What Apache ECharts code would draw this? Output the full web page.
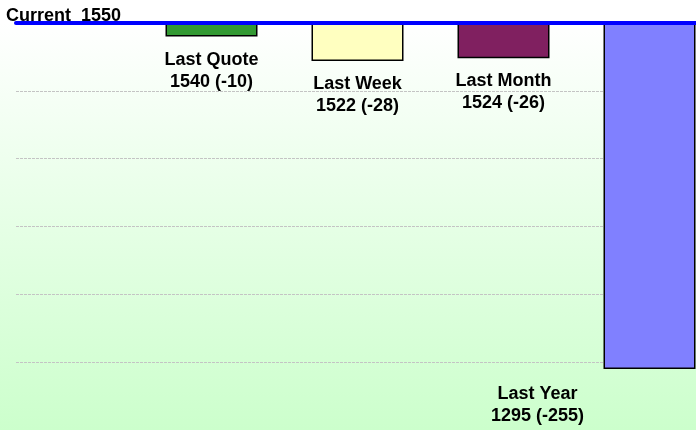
<!DOCTYPE html>
<html>
<head>
<meta charset="utf-8">
<script src="https://cdn.jsdelivr.net/npm/echarts@6/dist/echarts.min.js"></script>
<style>
html,body{margin:0;padding:0;}
body{background:linear-gradient(to bottom,#ffffff 0px,#ffffff 23px,#ccffcc 430px);}
#c{width:696px;height:430px;}
</style>
</head>
<body>
<div id="c"></div>
<script>
// ---- data ----
const categories = ['Last Quote', 'Last Week', 'Last Month', 'Last Year'];
const values = [1540, 1522, 1524, 1295];
const current = 1550;
const currentLabel = 'Current';
const yMin = 1250, yMax = 1550, yStep = 50;

// ---- styles ----
const barColors = ['#339933', '#FFFFC0', '#802060', '#8080FF'];
const labelOffsets = [[0, 0], [0, 0], [0, 0], [-112, 2]];
const FONT = '"Liberation Sans", Arial, sans-serif';

const chart = echarts.init(document.getElementById('c'), null, {renderer: 'canvas'});

const deltas = values.map(v => current - v);

chart.setOption({
  backgroundColor: 'transparent',
  animation: false,
  title: {
    text: currentLabel + '  ' + current,
    left: 6, top: 7, padding: 0,
    textStyle: {fontFamily: FONT, fontSize: 18, fontWeight: 'bold', color: '#000', lineHeight: 18}
  },
  grid: [
    {left: 16, right: 0, top: 23, height: 409, show: true, borderWidth: 0,
     backgroundColor: {type: 'linear', x: 0, y: 0, x2: 0, y2: 1,
       colorStops: [{offset: 0, color: '#ffffff'}, {offset: 1, color: '#ccffcc'}]}},
    {left: 211.5, right: 46.5, top: 23, height: 409}
  ],
  xAxis: [
    {gridIndex: 0, type: 'category', data: [''], position: 'top', z: 10,
     axisLine: {show: true, lineStyle: {color: '#0000FF', width: 4}},
     axisTick: {show: false}, axisLabel: {show: false}, splitLine: {show: false}},
    {gridIndex: 1, type: 'category', data: categories, boundaryGap: false,
     axisLine: {show: false}, axisTick: {show: false}, axisLabel: {show: false}}
  ],
  yAxis: [
    {gridIndex: 0, type: 'value', min: yMin, max: yMax, interval: yStep,
     axisLine: {show: false}, axisTick: {show: false}, axisLabel: {show: false},
     splitLine: {show: true, lineStyle: {color: '#c4c4c4', width: 1, type: [3, 1]}}},
    {gridIndex: 1, type: 'value', min: yMin, max: yMax, interval: yStep,
     axisLine: {show: false}, axisTick: {show: false}, axisLabel: {show: false},
     splitLine: {show: false}}
  ],
  series: [
    {type: 'bar', xAxisIndex: 1, yAxisIndex: 1, stack: 's', barWidth: 92, silent: true,
     itemStyle: {color: 'transparent'}, data: values},
    {type: 'bar', xAxisIndex: 1, yAxisIndex: 1, stack: 's', barWidth: 92,
     data: deltas.map((d, i) => ({
       value: d,
       itemStyle: {color: barColors[i], borderColor: '#000', borderWidth: 1.5},
       label: {offset: labelOffsets[i]}
     })),
     label: {
       show: true, position: 'bottom', distance: 12,
       fontFamily: FONT, fontSize: 18, fontWeight: 'bold', color: '#000', lineHeight: 22,
       align: 'center',
       formatter: p => categories[p.dataIndex] + '\n' + values[p.dataIndex] + ' (' + (values[p.dataIndex] - current) + ')'
     }}
  ]
});
</script>
</body>
</html>
